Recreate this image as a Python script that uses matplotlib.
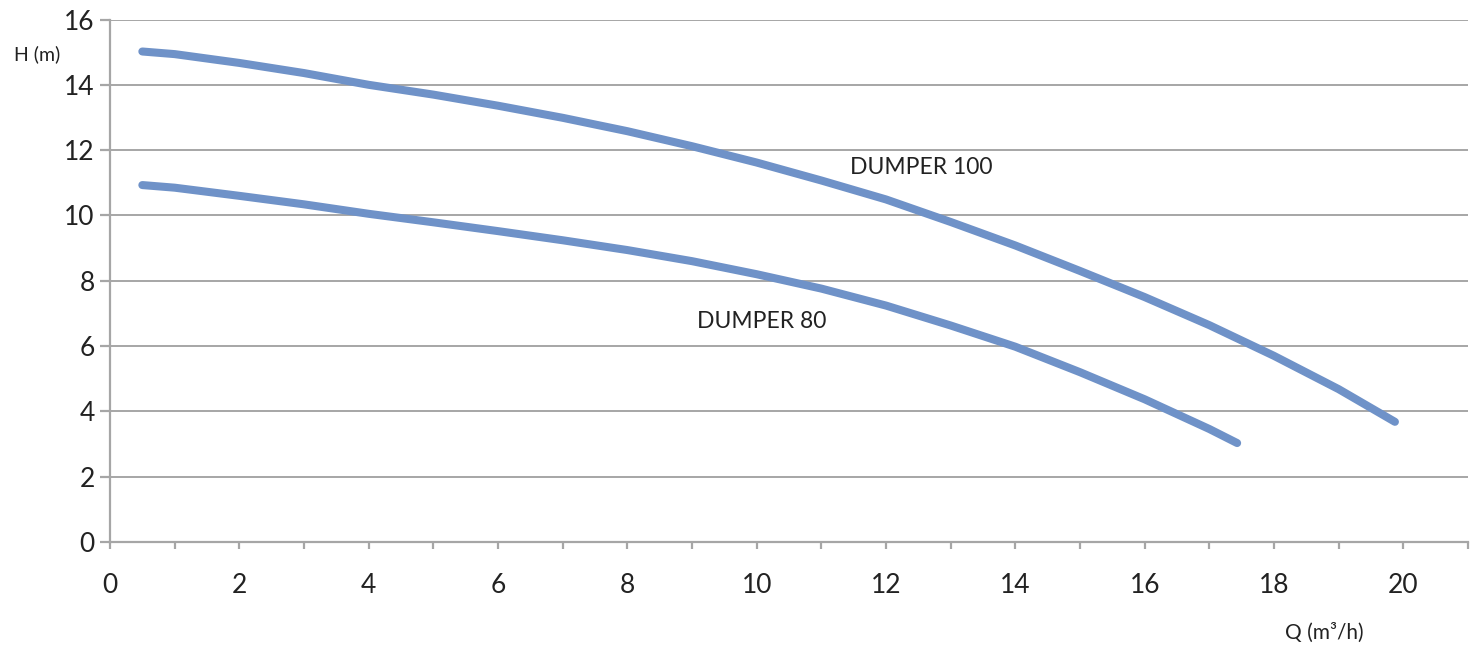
import matplotlib
matplotlib.use('Agg')
import matplotlib.pyplot as plt
from matplotlib.ticker import MultipleLocator

plt.rcParams['font.family'] = ['Lato', 'DejaVu Sans']

# curve values
q100 = [0.5, 1, 2, 3, 4, 5, 6, 7, 8, 9, 10, 11, 12, 13, 14, 15, 16, 17, 18, 19, 19.87]
h100 = [15.02, 14.94, 14.67, 14.36, 14.0, 13.7, 13.36, 12.99, 12.58, 12.12, 11.62,
        11.07, 10.49, 9.8, 9.08, 8.3, 7.5, 6.64, 5.7, 4.68, 3.68]

q80 = [0.5, 1, 2, 3, 4, 5, 6, 7, 8, 9, 10, 11, 12, 13, 14, 15, 16, 17, 17.43]
h80 = [10.93, 10.85, 10.6, 10.34, 10.05, 9.79, 9.52, 9.24, 8.94, 8.6, 8.2,
       7.76, 7.24, 6.63, 5.98, 5.2, 4.37, 3.46, 3.03]

labels = ['DUMPER 100', 'DUMPER 80']
label_pos = [(11.45, 11.48), (9.08, 6.74)]

blue = '#6f92c8'
grey = '#a6a6a6'
txt = '#222222'

fig = plt.figure(figsize=(14.78, 6.46), dpi=100)
ax = fig.add_axes([110/1478, 1 - 542/646, 1358/1478, (542 - 19.5)/646])

ax.plot(q100, h100, color=blue, lw=5.8, solid_capstyle='round', solid_joinstyle='round')
ax.plot(q80, h80, color=blue, lw=5.8, solid_capstyle='round', solid_joinstyle='round')

for lab, (x, y) in zip(labels, label_pos):
    ax.text(x, y, lab, fontsize=16.5, color=txt, ha='left', va='center')

ax.set_xlim(0, 21)
ax.set_ylim(0, 16)
ax.xaxis.set_major_locator(MultipleLocator(2))
ax.xaxis.set_minor_locator(MultipleLocator(1))
ax.yaxis.set_major_locator(MultipleLocator(2))

ax.grid(axis='y', color=grey, lw=1.4)
ax.set_axisbelow(True)
for s in ['top', 'right']:
    ax.spines[s].set_visible(False)
for s in ['left', 'bottom']:
    ax.spines[s].set_color(grey)
    ax.spines[s].set_linewidth(1.6)

ax.tick_params(axis='x', which='both', direction='out', length=5, width=1.6,
               color=grey, labelsize=19, labelcolor=txt, pad=17)
ax.tick_params(axis='y', which='major', direction='out', length=7, width=1.6,
               color=grey, labelsize=19, labelcolor=txt, pad=4)

fig.text(37/1478, 1 - 54/646, 'H (m)', fontsize=14, color=txt, ha='center', va='center')
fig.text(1324/1478, 1 - 633/646, 'Q (m³/h)', fontsize=15, color=txt, ha='center', va='center')

fig.savefig('out.png', dpi=100)
